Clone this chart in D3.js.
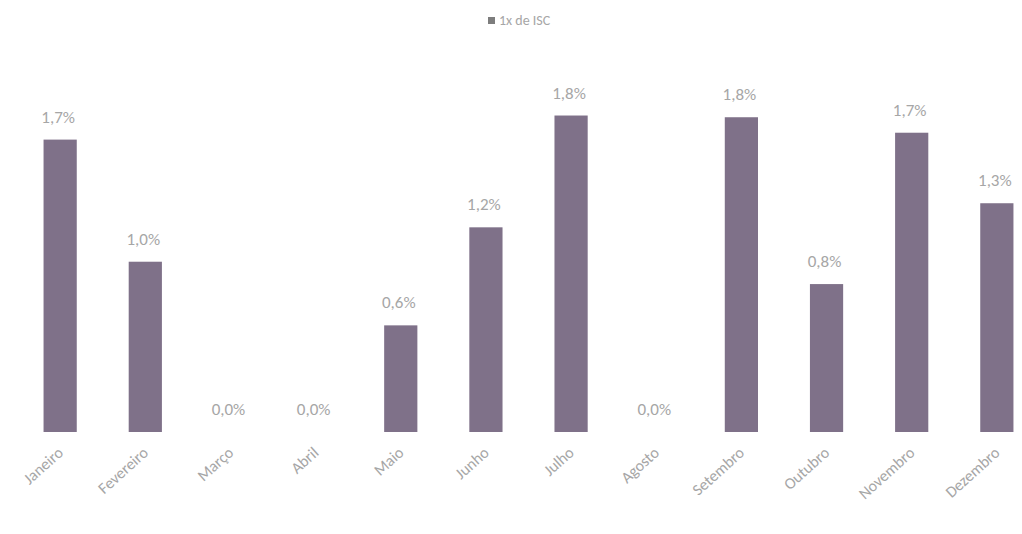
<!DOCTYPE html>
<html><head><meta charset="utf-8">
<script src="https://cdn.jsdelivr.net/npm/d3@7"></script>
<style>body{margin:0;background:#fff}svg{display:block}</style>
</head><body><svg id="c" width="1022" height="534"></svg>
<script>
const categories = ["Janeiro","Fevereiro","Março","Abril","Maio","Junho","Julho","Agosto","Setembro","Outubro","Novembro","Dezembro"];
const values = [1.70, 0.99, 0.0, 0.0, 0.62, 1.19, 1.84, 0.0, 1.83, 0.86, 1.74, 1.33];
const labels = ["1,7%","1,0%","0,0%","0,0%","0,6%","1,2%","1,8%","0,0%","1,8%","0,8%","1,7%","1,3%"];
const seriesName = "1x de ISC";

const svg = d3.select("#c");
const font = "Carlito, Calibri, 'Open Sans', sans-serif";
const x = d3.scaleBand().domain(categories).range([18, 1039]).paddingInner(0.61).paddingOuter(0.3);
const y = d3.scaleLinear().domain([0, 2]).range([432, 88]);

svg.selectAll("rect.bar").data(values).join("rect")
  .attr("class","bar")
  .attr("x",(d,i)=>x(categories[i]))
  .attr("width",x.bandwidth())
  .attr("y",d=>y(d))
  .attr("height",d=>y(0)-y(d))
  .attr("fill","#7f7189");

svg.selectAll("text.val").data(values).join("text")
  .attr("class","val")
  .attr("x",(d,i)=>x(categories[i])+x.bandwidth()/2 - 2)
  .attr("y",d=>y(d)-17)
  .attr("text-anchor","middle")
  .attr("font-family",font).attr("font-size",17).attr("fill","#a6a6a6")
  .text((d,i)=>labels[i]);

const xAxis = svg.append("g").attr("transform","translate(0,432)")
  .call(d3.axisBottom(x).tickSize(0).tickPadding(0));
xAxis.select(".domain").remove();
xAxis.selectAll("text")
  .attr("font-family",font).attr("font-size",16).attr("fill","#a6a6a6")
  .attr("text-anchor","end")
  .attr("dy",0)
  .attr("transform","translate(4,22) rotate(-42)");

const lg = svg.append("g").attr("transform","translate(488,15)");
lg.append("rect").attr("width",7).attr("height",7).attr("y",2).attr("fill","#7d7d7d");
lg.append("text").attr("x",11).attr("y",10).attr("font-family",font).attr("font-size",14).attr("fill","#a6a6a6").text(seriesName);
</script></body></html>
